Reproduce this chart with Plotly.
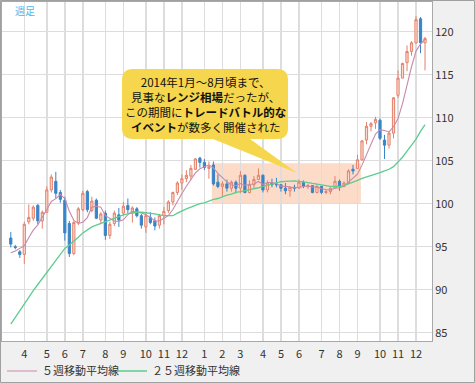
import pandas as pd
import plotly.graph_objects as go

# ---------------- data (weekly USD/JPY) ----------------
week_start = "2013-03-11"
n_weeks = 93
weeks = pd.date_range(week_start, periods=n_weeks, freq="7D")

opens = [
    96.0, 95.0, 94.4, 94.1, 97.9, 98.3, 99.8, 98.0, 99.0, 101.6,
    102.6, 101.3, 100.4, 97.7, 94.2, 97.8, 99.3, 101.4, 99.2, 100.4,
    98.1, 98.9, 96.3, 97.7, 98.7, 98.9, 99.8, 98.9, 99.4, 98.6,
    97.3, 98.4, 98.0, 97.5, 98.6, 99.2, 100.2, 101.3, 102.4, 102.9,
    103.2, 104.0, 105.3, 104.8, 104.1, 104.5, 102.5, 102.0, 102.3, 101.8,
    102.5, 101.8, 103.3, 101.3, 102.2, 102.8, 103.3, 101.6, 102.4, 102.3,
    102.2, 101.8, 101.5, 101.9, 101.8, 102.5, 102.0, 102.1, 101.3, 102.0,
    101.3, 101.4, 101.8, 102.6, 102.0, 102.4, 104.0, 104.1, 105.1, 107.4,
    109.0, 109.4, 109.7, 107.4, 106.8, 108.2, 112.6, 114.6, 116.4, 117.7,
    118.7, 121.5, 118.7,
]
highs = [
    96.7, 95.2, 94.6, 97.9, 99.9, 99.8, 99.95, 99.2, 102.0, 103.4,
    103.7, 101.6, 100.8, 98.0, 98.0, 99.6, 101.5, 101.6, 100.8, 100.6,
    99.0, 99.2, 97.9, 99.2, 99.5, 100.2, 100.6, 99.7, 99.6, 98.8,
    99.0, 99.0, 98.4, 98.8, 99.6, 100.4, 101.4, 102.6, 103.4, 103.9,
    104.5, 105.3, 105.45, 105.2, 104.9, 104.9, 103.4, 102.6, 102.8, 102.7,
    102.7, 103.8, 103.4, 102.7, 103.2, 104.1, 103.4, 102.7, 102.9, 103.0,
    102.3, 102.4, 102.0, 102.2, 102.8, 102.7, 102.3, 102.1, 102.3, 102.1,
    101.7, 101.9, 103.2, 102.8, 102.6, 104.0, 104.5, 105.7, 107.4, 109.5,
    109.5, 110.1, 109.9, 108.0, 108.4, 112.4, 115.5, 116.4, 118.4, 118.9,
    121.8, 121.7, 119.4,
]
lows = [
    94.9, 94.7, 93.7, 93.0, 97.6, 98.0, 97.6, 97.1, 98.9, 101.3,
    100.6, 100.1, 95.7, 93.8, 94.0, 97.5, 99.1, 99.0, 99.0, 98.2,
    97.6, 95.8, 95.9, 97.4, 97.3, 98.6, 98.9, 97.8, 98.4, 97.1,
    96.6, 97.6, 96.9, 97.1, 97.6, 98.9, 99.8, 101.0, 101.6, 102.5,
    102.8, 103.9, 104.2, 103.9, 102.9, 102.1, 101.8, 100.8, 101.4, 101.4,
    101.2, 101.2, 101.2, 101.2, 101.7, 102.8, 101.3, 101.3, 101.9, 101.9,
    101.4, 101.1, 100.8, 101.4, 101.8, 101.8, 101.7, 101.2, 101.2, 101.1,
    101.1, 101.1, 101.8, 101.5, 101.9, 102.3, 103.4, 104.1, 105.0, 106.9,
    108.4, 108.7, 107.4, 105.2, 106.4, 107.6, 112.3, 114.6, 115.4, 117.2,
    118.6, 117.5, 115.5,
]
closes = [
    95.3, 94.9, 94.1, 97.6, 98.4, 99.6, 98.0, 99.0, 101.6, 103.1,
    101.2, 100.5, 96.6, 94.2, 97.8, 99.4, 101.2, 99.3, 100.3, 98.3,
    98.8, 96.3, 97.6, 98.9, 98.1, 99.7, 99.3, 99.5, 98.6, 97.5,
    98.6, 97.8, 97.4, 98.6, 99.1, 100.2, 101.3, 102.4, 102.9, 103.3,
    104.1, 105.2, 104.8, 104.2, 104.3, 102.3, 102.0, 102.3, 101.8, 102.5,
    101.8, 103.3, 101.3, 102.2, 102.8, 103.3, 101.6, 102.4, 102.2, 102.2,
    101.8, 101.5, 101.9, 101.8, 102.5, 102.0, 102.1, 101.3, 102.0, 101.3,
    101.4, 101.8, 102.6, 102.0, 102.4, 103.8, 103.8, 105.1, 107.3, 109.0,
    109.3, 109.8, 107.6, 106.8, 108.2, 112.3, 114.6, 116.3, 117.7, 118.7,
    121.4, 118.7, 119.2,
]
ma5 = [
    94.3, 94.5, 94.8, 95.1, 96.06, 96.92, 97.54, 98.52, 99.32, 100.26,
    100.58, 101.08, 100.6, 99.12, 98.06, 97.7, 97.84, 98.38, 99.6, 99.7,
    99.58, 98.6, 98.26, 97.98, 97.94, 98.12, 98.72, 99.1, 99.04, 98.92,
    98.7, 98.4, 97.98, 97.98, 98.3, 98.62, 99.32, 100.32, 101.18, 102.02,
    102.8, 103.58, 104.06, 104.32, 104.52, 104.16, 103.52, 103.02, 102.54, 102.18,
    102.08, 102.34, 102.14, 102.22, 102.28, 102.58, 102.24, 102.46, 102.46, 102.34,
    102.04, 102.02, 101.92, 101.84, 101.9, 101.94, 102.06, 101.94, 101.98, 101.74,
    101.62, 101.56, 101.82, 101.82, 102.04, 102.52, 102.92, 103.42, 104.48, 105.8,
    106.9, 108.1, 108.6, 108.5, 108.34, 108.94, 109.9, 111.64, 113.82, 115.92,
    117.74, 118.56, 119.14,
]
ma25 = [
    86.0, 86.8, 87.6, 88.4, 89.2, 89.9, 90.6, 91.3, 92.0, 92.8,
    93.5, 94.2, 94.8, 95.2, 95.6, 96.1, 96.6, 97.0, 97.3, 97.5,
    97.7, 97.9, 98.1, 98.3, 98.5, 98.7, 98.8, 98.9, 99.0, 99.0,
    98.95, 98.9, 98.8, 98.7, 98.6, 98.6, 98.6, 98.9, 99.2, 99.4,
    99.6, 99.8, 100.0, 100.1, 100.3, 100.5, 100.6, 100.8, 101.0, 101.1,
    101.3, 101.4, 101.5, 101.6, 101.7, 101.85, 102.0, 102.15, 102.3, 102.45,
    102.55, 102.6, 102.65, 102.65, 102.6, 102.55, 102.45, 102.35, 102.25, 102.15,
    102.05, 102.0, 102.0, 102.0, 102.1, 102.3, 102.45, 102.7, 102.95, 103.1,
    103.3, 103.45, 103.6, 103.8, 104.0, 104.3, 104.8, 105.4, 106.1, 106.8,
    107.5, 108.4, 109.2,
]
month_labels = ["4", "5", "6", "7", "8", "9", "10", "11", "12",
                "1", "2", "3", "4", "5", "6", "7", "8", "9", "10", "11", "12"]
y_ticks = [85, 90, 95, 100, 105, 110, 115, 120]
range_box = {"x0": "2014-01-17 12:00", "x1": "2014-09-06 08:00", "y0": 100.0, "y1": 104.7}
ma5_name = "５週移動平均線"
ma25_name = "２５週移動平均線"
callout_text = ("2014年1月～8月頃まで、<br>見事な<b>レンジ相場</b>だったが、<br>"
                "この期間に<b>トレードバトル的な</b><br><b>イベント</b>が数多く開催された")

# grid / ticks on the first weekly bar of each month
tick_dates = [weeks[k] for k in range(1, len(weeks)) if weeks[k].month != weeks[k - 1].month]

# ---------------- layout geometry ----------------
W, H = 475, 383
PL, PR, PT, PB = 2, 43, 2, 42
PW, PH = W - PL - PR, H - PT - PB


def px(x):
    return (x - PL) / PW


def py(y):
    return (H - PB - y) / PH


FONT = "Noto Sans CJK JP, Noto Sans, sans-serif"

fig = go.Figure()
fig.add_trace(go.Candlestick(
    x=weeks, open=opens, high=highs, low=lows, close=closes,
    increasing=dict(line=dict(color="#e5806a", width=1), fillcolor="#f9dbd1"),
    decreasing=dict(line=dict(color="#3a84c6", width=1), fillcolor="#3a84c6"),
    showlegend=False, hoverinfo="skip", name="週足",
))
fig.add_trace(go.Scatter(x=weeks, y=ma5, mode="lines", name=ma5_name, legend="legend",
                         line=dict(color="#c98aa9", width=1.1), hoverinfo="skip"))
fig.add_trace(go.Scatter(x=weeks, y=ma25, mode="lines", name=ma25_name, legend="legend2",
                         line=dict(color="#5ccd8f", width=1.3), hoverinfo="skip"))

# callout bubble (rounded box + tail), in pixel coordinates converted to paper
bx0, bx1, by0, by1, r = 122, 288, 69, 139, 11
tail = [(250, 139), (297, 173), (213, 139)]
pts = [
    ("M", (bx0 + r, by0)), ("L", (bx1 - r, by0)), ("Q", (bx1, by0), (bx1, by0 + r)),
    ("L", (bx1, by1 - r)), ("Q", (bx1, by1), (bx1 - r, by1)),
    ("L", tail[0]), ("L", tail[1]), ("L", tail[2]),
    ("L", (bx0 + r, by1)), ("Q", (bx0, by1), (bx0, by1 - r)),
    ("L", (bx0, by0 + r)), ("Q", (bx0, by0), (bx0 + r, by0)),
]
path = ""
for item in pts:
    cmd = item[0]
    coords = " ".join(f"{px(p[0]):.5f},{py(p[1]):.5f}" for p in item[1:])
    path += f"{cmd}{coords} "
path += "Z"

legend_common = dict(orientation="h", xref="container", yref="container",
                     y=1 - 371 / H, xanchor="left", yanchor="middle",
                     bgcolor="rgba(0,0,0,0)", font=dict(size=11, color="#333333"),
                     itemwidth=30)

fig.update_layout(
    width=W, height=H,
    margin=dict(l=PL, r=PR, t=PT, b=PB, autoexpand=False),
    paper_bgcolor="#f0f0f0", plot_bgcolor="#ffffff",
    font=dict(family=FONT, size=11, color="#333333"),
    showlegend=True,
    legend=dict(x=2 / W, **legend_common),
    legend2=dict(x=112 / W, **legend_common),
    xaxis=dict(type="date", range=["2013-02-25 08:00", "2014-12-25 20:00"],
               tickvals=tick_dates, ticktext=month_labels, tickangle=0,
               showgrid=True, gridcolor="#dddddd", gridwidth=1.5,
               showline=True, linecolor="#a8a8a8", linewidth=1, mirror=True,
               ticks="", ticklen=0, ticklabelstandoff=3,
               rangeslider=dict(visible=False), fixedrange=True,
               tickfont=dict(size=11, color="#333333")),
    yaxis=dict(side="right", range=[84.03, 123.45], tickvals=y_ticks,
               showgrid=True, gridcolor="#dddddd", gridwidth=1.5,
               showline=True, linecolor="#a8a8a8", linewidth=1, mirror=True,
               ticks="", ticklen=0, ticklabelstandoff=0, zeroline=False, fixedrange=True,
               tickfont=dict(size=11, color="#333333")),
    shapes=[
        dict(type="rect", xref="x", yref="y", layer="below",
             x0=range_box["x0"], x1=range_box["x1"], y0=range_box["y0"], y1=range_box["y1"],
             fillcolor="rgba(250,185,145,0.5)", line=dict(width=0)),
        dict(type="path", xref="paper", yref="paper", layer="above", path=path,
             fillcolor="#f6d64c", line=dict(width=0)),
        dict(type="rect", xref="paper", yref="paper", layer="above",
             x0=px(0.5), x1=px(W - 0.5), y0=py(H - 0.5), y1=py(0.5),
             fillcolor="rgba(0,0,0,0)", line=dict(color="#a0a0a0", width=1)),
    ],
    annotations=[
        dict(xref="paper", yref="paper", x=px(205), y=py(104), xanchor="center", yanchor="middle",
             text=callout_text, showarrow=False, align="center",
             font=dict(family=FONT, size=11.5, color="#111111")),
        dict(xref="paper", yref="paper", x=px(13), y=py(10), xanchor="left", yanchor="middle",
             text="週足", showarrow=False, font=dict(family=FONT, size=10, color="#4db6ea")),
    ],
)

fig.write_html("out.html", config={"displayModeBar": False, "staticPlot": True},
               post_script="document.body.style.margin='0';document.body.style.overflow='hidden';")
